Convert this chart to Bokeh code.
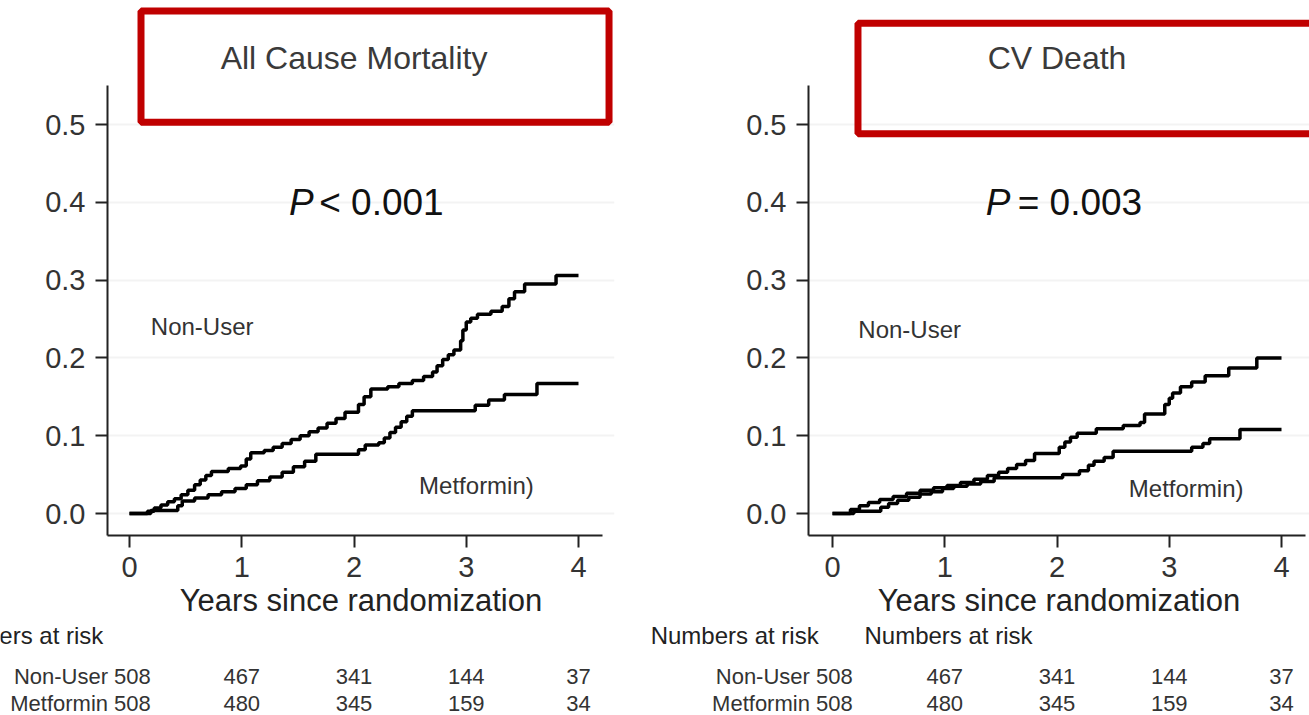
from bokeh.plotting import figure
from bokeh.layouts import row, column
from bokeh.models import (Range1d, FixedTicker, PrintfTickFormatter, Label,
                          BoxAnnotation)
from bokeh.embed import file_html
from bokeh.resources import INLINE

# ---- Cumulative incidence (Kaplan-Meier style step curves) ----
# All cause mortality
acm_nonuser_t = [0.00, 0.16, 0.22, 0.28, 0.34, 0.40, 0.46, 0.52, 0.58, 0.63,
                 0.68, 0.73, 0.88, 0.99, 1.04, 1.08, 1.20, 1.28, 1.36, 1.44,
                 1.52, 1.60, 1.68, 1.76, 1.84, 1.92, 2.04, 2.09, 2.15, 2.30,
                 2.40, 2.52, 2.62, 2.70, 2.74, 2.79, 2.84, 2.89, 2.95, 2.97,
                 3.00, 3.04, 3.10, 3.22, 3.32, 3.38, 3.43, 3.52, 3.80, 4.00]
acm_nonuser_y = [0.000, 0.003, 0.007, 0.011, 0.015, 0.019, 0.024, 0.030, 0.037, 0.043,
                 0.049, 0.054, 0.058, 0.061, 0.070, 0.078, 0.081, 0.085, 0.090, 0.095,
                 0.100, 0.105, 0.110, 0.116, 0.122, 0.130, 0.140, 0.150, 0.160, 0.163,
                 0.167, 0.171, 0.176, 0.182, 0.190, 0.198, 0.204, 0.210, 0.222, 0.236,
                 0.246, 0.251, 0.256, 0.260, 0.266, 0.276, 0.285, 0.295, 0.306, 0.306]
acm_metformin_t = [0.00, 0.19, 0.43, 0.47, 0.58, 0.70, 0.82, 0.94, 1.04, 1.14,
                   1.25, 1.36, 1.46, 1.56, 1.66, 2.04, 2.10, 2.22, 2.27, 2.32,
                   2.37, 2.42, 2.47, 2.52, 3.08, 3.20, 3.34, 3.63, 4.00]
acm_metformin_y = [0.000, 0.004, 0.010, 0.016, 0.020, 0.024, 0.028, 0.032, 0.037, 0.042,
                   0.047, 0.053, 0.060, 0.067, 0.076, 0.082, 0.088, 0.091, 0.097, 0.104,
                   0.111, 0.118, 0.125, 0.132, 0.139, 0.146, 0.153, 0.167, 0.167]

# CV death
cv_nonuser_t = [0.00, 0.16, 0.24, 0.32, 0.42, 0.54, 0.66, 0.78, 0.90, 1.02,
                1.14, 1.26, 1.38, 1.48, 1.56, 1.64, 1.72, 1.80, 2.02, 2.07,
                2.12, 2.18, 2.35, 2.59, 2.74, 2.78, 2.96, 3.00, 3.03, 3.10,
                3.20, 3.32, 3.53, 3.78, 4.00]
cv_nonuser_y = [0.000, 0.005, 0.010, 0.014, 0.018, 0.022, 0.026, 0.030, 0.033, 0.036,
                0.040, 0.044, 0.049, 0.053, 0.058, 0.063, 0.068, 0.077, 0.085, 0.092,
                0.098, 0.103, 0.109, 0.113, 0.117, 0.128, 0.140, 0.148, 0.155, 0.163,
                0.169, 0.177, 0.187, 0.200, 0.200]
cv_metformin_t = [0.00, 0.19, 0.43, 0.50, 0.58, 0.68, 0.78, 0.88, 0.98, 1.08,
                  1.20, 1.32, 1.44, 2.05, 2.20, 2.28, 2.33, 2.42, 2.50, 3.20,
                  3.30, 3.36, 3.63, 4.00]
cv_metformin_y = [0.000, 0.003, 0.008, 0.013, 0.017, 0.021, 0.025, 0.028, 0.032, 0.035,
                  0.038, 0.041, 0.046, 0.050, 0.055, 0.062, 0.067, 0.072, 0.080, 0.085,
                  0.090, 0.096, 0.108, 0.108]

# ---- Numbers at risk ----
risk_years = [0, 1, 2, 3, 4]
group_names = ["Non-User", "Metformin"]
acm_risk_nonuser = [508, 467, 341, 144, 37]
acm_risk_metformin = [508, 480, 345, 159, 34]
cv_risk_nonuser = [508, 467, 341, 144, 37]
cv_risk_metformin = [508, 480, 345, 159, 34]

y_ticks = [0.0, 0.1, 0.2, 0.3, 0.4, 0.5]
x_ticks = [0, 1, 2, 3, 4]

FONT = "Liberation Sans"
TEXT = "#333333"
RED = "#c00000"
PX_PER_YEAR = 112.25
PX_PER_UNIT = 778.0
H_TOTAL = 715
H_TOP = 621              # height of the curve panels; the risk table sits below
FRAME_BOTTOM = 535       # pixel row of the x axis
ZERO_ROW = 513           # pixel row of y = 0


def curve_panel(width, frame_left, frame_right, zero_col, title, box, p_sym, p_rest,
                p_pos, nonuser_pos, met_pos, curves):
    x_start = -(zero_col - frame_left) / PX_PER_YEAR
    x_end = (frame_right - zero_col) / PX_PER_YEAR
    y_start = -(FRAME_BOTTOM - ZERO_ROW) / PX_PER_UNIT
    y_end = ZERO_ROW / PX_PER_UNIT

    p = figure(width=width, height=H_TOP, output_backend="svg", toolbar_location=None,
               x_range=Range1d(x_start, x_end), y_range=Range1d(y_start, y_end),
               min_border_left=frame_left, min_border_right=width - frame_right,
               min_border_top=0, min_border_bottom=H_TOP - FRAME_BOTTOM)
    p.outline_line_color = None
    p.background_fill_color = "white"
    p.border_fill_color = "white"
    p.xgrid.visible = False
    p.ygrid.grid_line_color = "#f3f3f3"
    p.ygrid.grid_line_width = 2

    p.yaxis.ticker = FixedTicker(ticks=y_ticks)
    p.yaxis.formatter = PrintfTickFormatter(format="%.1f")
    p.yaxis.bounds = (y_start, 0.55)
    p.yaxis.major_label_standoff = 10
    p.xaxis.ticker = FixedTicker(ticks=x_ticks)
    p.xaxis.bounds = (x_start, 4.21)
    p.xaxis.major_label_standoff = 9
    p.xaxis.axis_label = "Years since randomization"
    p.xaxis.axis_label_text_font = FONT
    p.xaxis.axis_label_text_font_size = "31px"
    p.xaxis.axis_label_text_font_style = "normal"
    p.xaxis.axis_label_text_color = "#222222"
    p.xaxis.axis_label_standoff = 3
    for ax in (p.xaxis, p.yaxis):
        ax.axis_line_color = "#222222"
        ax.axis_line_width = 2
        ax.major_tick_line_color = "#222222"
        ax.major_tick_line_width = 2
        ax.major_tick_out = 12
        ax.major_tick_in = 0
        ax.minor_tick_line_color = None
        ax.major_label_text_font = FONT
        ax.major_label_text_font_size = "29px"
        ax.major_label_text_color = TEXT

    # step curves
    for t, y in curves:
        p.step(t, y, mode="after", line_color="black", line_width=3.5)

    # boxed title
    left, right, top, bottom = box
    p.add_layout(BoxAnnotation(left=left, right=right, top=top, bottom=bottom,
                               fill_alpha=0, line_color=RED, line_alpha=1,
                               line_width=7))
    p.add_layout(Label(x=2.0, y=0.585, text=title, text_font=FONT,
                       text_font_size="32px", text_color="#3a3a3a",
                       text_align="center", text_baseline="middle"))

    # p-value
    p.add_layout(Label(x=p_pos[0], y=0.40, text=p_sym, text_font=FONT,
                       text_font_size="37px", text_font_style="italic",
                       text_color="#111111", text_align="right",
                       text_baseline="middle"))
    p.add_layout(Label(x=p_pos[1], y=0.40, text=p_rest, text_font=FONT,
                       text_font_size="37px", text_color="#111111",
                       text_align="left", text_baseline="middle"))

    # curve labels
    p.add_layout(Label(x=nonuser_pos[0], y=nonuser_pos[1], text="Non-User",
                       text_font=FONT, text_font_size="24px", text_color=TEXT,
                       text_align="left", text_baseline="middle"))
    p.add_layout(Label(x=met_pos[0], y=met_pos[1], text="Metformin)",
                       text_font=FONT, text_font_size="24px", text_color=TEXT,
                       text_align="left", text_baseline="middle"))
    return p


def risk_table(width, zero_col, risk, label_x, headers):
    # same horizontal scale as the curve panel above it; y counts pixels up from the bottom
    h = H_TOTAL - H_TOP
    p = figure(width=width, height=h, output_backend="svg", toolbar_location=None,
               x_range=Range1d(-zero_col / PX_PER_YEAR, (width - zero_col) / PX_PER_YEAR),
               y_range=Range1d(0, h), x_axis_location=None, y_axis_location=None,
               min_border_left=0, min_border_right=0, min_border_top=0,
               min_border_bottom=0)
    p.outline_line_color = None
    p.grid.visible = False
    p.background_fill_color = "white"
    p.border_fill_color = "white"

    for hx in headers:
        p.add_layout(Label(x=hx, y=H_TOTAL - 635, text="Numbers at risk",
                           text_font=FONT, text_font_size="24px",
                           text_color="#222222", text_align="left",
                           text_baseline="middle"))
    row_y = [H_TOTAL - 676, H_TOTAL - 703]
    for name, counts, ry in zip(group_names, risk, row_y):
        p.add_layout(Label(x=label_x, y=ry, text=f"{name} {counts[0]}",
                           text_font=FONT, text_font_size="22px", text_color=TEXT,
                           text_align="right", text_baseline="middle"))
        for yr, n in zip(risk_years[1:], counts[1:]):
            p.add_layout(Label(x=yr, y=ry, text=str(n), text_font=FONT,
                               text_font_size="22px", text_color=TEXT,
                               text_align="center", text_baseline="middle"))
    return p


left_panel = curve_panel(
    width=640, frame_left=107, frame_right=614, zero_col=129,
    title="All Cause Mortality",
    box=(0.1025, 4.272, 0.646, 0.503),
    p_sym="P", p_rest="< 0.001", p_pos=(1.64, 1.69),
    nonuser_pos=(0.19, 0.240), met_pos=(2.58, 0.036),
    curves=[(acm_nonuser_t, acm_nonuser_y), (acm_metformin_t, acm_metformin_y)],
)
right_panel = curve_panel(
    width=669, frame_left=168, frame_right=669, zero_col=192,
    title="CV Death",
    box=(0.227, 4.6, 0.630, 0.488),
    p_sym="P", p_rest="= 0.003", p_pos=(1.585, 1.65),
    nonuser_pos=(0.23, 0.2365), met_pos=(2.64, 0.032),
    curves=[(cv_nonuser_t, cv_nonuser_y), (cv_metformin_t, cv_metformin_y)],
)
left_table = risk_table(640, 129, [acm_risk_nonuser, acm_risk_metformin],
                        label_x=0.19, headers=[-1.73])
right_table = risk_table(669, 192, [cv_risk_nonuser, cv_risk_metformin],
                         label_x=0.18, headers=[-1.62, 0.285])

layout = column(row(left_panel, right_panel, spacing=0),
                row(left_table, right_table, spacing=0), spacing=0)
open("out.html", "w").write(file_html(layout, INLINE))
